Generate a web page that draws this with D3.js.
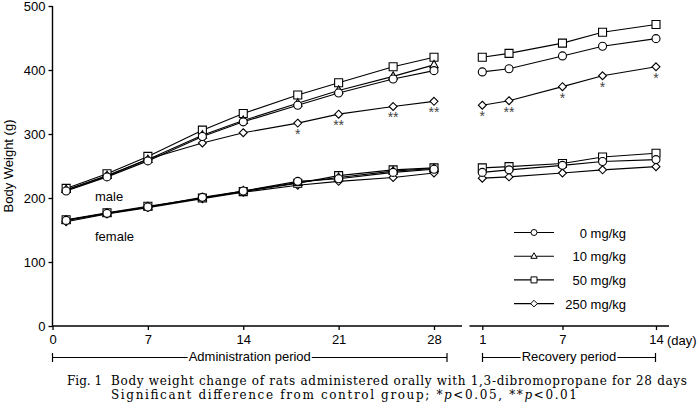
<!DOCTYPE html>
<html>
<head>
<meta charset="utf-8">
<script src="https://cdn.jsdelivr.net/npm/d3@7"></script>
<style>
  body { margin: 0; background: #fff; }
  svg text { font-family: "Liberation Sans", Arial, sans-serif; }
  .cap { font-family: "DejaVu Serif", "Liberation Serif", serif !important; }
</style>
</head>
<body>
<div id="chart"></div>
<script>
// days
var adminDays = [1, 4, 7, 11, 14, 18, 21, 25, 28];
var recDays = [1, 3, 7, 10, 14];
var doses = ["0 mg/kg", "10 mg/kg", "50 mg/kg", "250 mg/kg"];
var shapes = ["circle", "triangle", "square", "diamond"];

// male, administration period
var maleAdmin0 = [211, 233, 258, 296, 319, 345, 364, 386, 399];
var maleAdmin10 = [213, 235, 260, 298, 321, 348, 368, 390, 408];
var maleAdmin50 = [215, 238, 265, 306, 332, 361, 380, 405, 420];
var maleAdmin250 = [212, 234, 261, 286, 302, 317, 331, 343, 351];
// female, administration period
var femAdmin0 = [165, 176, 186, 201, 211, 226, 230, 240, 245];
var femAdmin10 = [165, 176, 186, 200, 211, 224, 232, 242, 246];
var femAdmin50 = [166, 177, 187, 200, 210, 223, 235, 244, 247];
var femAdmin250 = [163, 175, 185, 199, 209, 220, 226, 232, 239];
// recovery period (no 10 mg/kg group)
var maleRec0 = [397, 402, 422, 437, 449];
var maleRec50 = [420, 426, 442, 459, 471];
var maleRec250 = [345, 352, 374, 391, 405];
var femRec0 = [240, 244, 251, 257, 260];
var femRec50 = [247, 249, 254, 264, 270];
var femRec250 = [231, 233, 239, 244, 249];
// significance marks for male 250 mg/kg
var maleAdminStars = ["", "", "", "", "", "*", "**", "**", "**"];
var maleRecStars = ["*", "**", "*", "*", "*"];

var yTicks = [0, 100, 200, 300, 400, 500];
var adminTicks = [0, 7, 14, 21, 28];
var recTicks = [1, 7, 14];

var W = 699, H = 408;
var svg = d3.select("#chart").append("svg")
  .attr("width", W).attr("height", H);

var y = d3.scaleLinear().domain([0, 500]).range([326, 6]);
var xA = d3.scaleLinear().domain([0, 28]).range([52.5, 434]);
var xR = d3.scaleLinear().domain([1, 14]).range([482.3, 656]);

// marker path, centred on 0,0
function markerPath(type, s) {
  if (type === "circle") return d3.symbol(d3.symbolCircle, Math.PI * s * s)();
  if (type === "square") return "M" + (-s) + "," + (-s) + "h" + (2 * s) + "v" + (2 * s) + "h" + (-2 * s) + "Z";
  if (type === "triangle") return "M0," + (-s * 1.15) + "L" + (s * 1.05) + "," + (s * 0.7) + "L" + (-s * 1.05) + "," + (s * 0.7) + "Z";
  return "M0," + (-s * 1.1) + "L" + (s * 1.1) + ",0L0," + (s * 1.1) + "L" + (-s * 1.1) + ",0Z";
}

function drawSeries(g, x, days, vals, type) {
  var line = d3.line().x(function(d, i) { return x(days[i]); }).y(function(d) { return y(d); });
  g.append("path").attr("d", line(vals))
    .attr("fill", "none").attr("stroke", "#000").attr("stroke-width", 1.1);
  g.selectAll(null).data(vals).enter().append("path")
    .attr("d", markerPath(type, type === "diamond" ? 3.6 : 4))
    .attr("transform", function(d, i) { return "translate(" + x(days[i]) + "," + y(d) + ")"; })
    .attr("fill", "#fff").attr("stroke", "#000").attr("stroke-width", 1.1);
}

var plot = svg.append("g");
// draw order: diamond, square, triangle, circle
[[femAdmin250, "diamond"], [femAdmin50, "square"], [femAdmin10, "triangle"], [femAdmin0, "circle"],
 [maleAdmin250, "diamond"], [maleAdmin50, "square"], [maleAdmin10, "triangle"], [maleAdmin0, "circle"]]
  .forEach(function(s) { drawSeries(plot, xA, adminDays, s[0], s[1]); });
[[femRec250, "diamond"], [femRec50, "square"], [femRec0, "circle"],
 [maleRec250, "diamond"], [maleRec50, "square"], [maleRec0, "circle"]]
  .forEach(function(s) { drawSeries(plot, xR, recDays, s[0], s[1]); });

// stars
function drawStars(x, days, vals, stars) {
  plot.selectAll(null).data(stars).enter().append("text")
    .attr("x", function(d, i) { return x(days[i]); })
    .attr("y", function(d, i) { return y(vals[i]) + 16; })
    .attr("text-anchor", "middle")
    .attr("font-size", 14)
    .attr("fill", "#444")
    .text(function(d) { return d; });
}
drawStars(xA, adminDays, maleAdmin250, maleAdminStars);
drawStars(xR, recDays, maleRec250, maleRecStars);

// axes
var yAxis = svg.append("g").attr("transform", "translate(52.5,0)")
  .call(d3.axisLeft(y).tickValues(yTicks).tickSize(4).tickPadding(3));
var xAxisA = svg.append("g").attr("transform", "translate(0,326)")
  .call(d3.axisBottom(xA).tickValues(adminTicks).tickSize(4).tickPadding(5));
var xAxisR = svg.append("g").attr("transform", "translate(0,326)")
  .call(d3.axisBottom(xR).tickValues(recTicks).tickSize(4).tickPadding(5));
[yAxis, xAxisA, xAxisR].forEach(function(a) {
  a.select(".domain").remove();
  a.selectAll("line").attr("stroke", "#000").attr("stroke-width", 1.3);
  a.selectAll("text").attr("font-size", 13).attr("fill", "#000")
    .style("font-family", "'Liberation Sans', Arial, sans-serif");
});
svg.append("line").attr("x1", 52.5).attr("x2", 52.5).attr("y1", 6).attr("y2", 326)
  .attr("stroke", "#000").attr("stroke-width", 1.4);
svg.append("line").attr("x1", 52).attr("x2", 462).attr("y1", 326).attr("y2", 326)
  .attr("stroke", "#000").attr("stroke-width", 1.4);
svg.append("line").attr("x1", 469.5).attr("x2", 669).attr("y1", 326).attr("y2", 326)
  .attr("stroke", "#000").attr("stroke-width", 1.4);

svg.append("text").attr("x", 667).attr("y", 345).attr("font-size", 13).text("(day)");

svg.append("text")
  .attr("transform", "translate(13,166) rotate(-90)")
  .attr("text-anchor", "middle").attr("font-size", 13)
  .text("Body Weight (g)");

svg.append("text").attr("x", 95).attr("y", 201).attr("font-size", 13).text("male");
svg.append("text").attr("x", 95).attr("y", 241).attr("font-size", 13).text("female");

// period brackets
function bracket(x1, x2, label) {
  var g = svg.append("g");
  var t = g.append("text").attr("x", (x1 + x2) / 2).attr("y", 361)
    .attr("text-anchor", "middle").attr("font-size", 13).text(label);
  var w = t.node().getComputedTextLength();
  var cx = (x1 + x2) / 2, by = 357.5;
  g.append("line").attr("x1", x1).attr("x2", cx - w / 2 - 1).attr("y1", by).attr("y2", by);
  g.append("line").attr("x1", cx + w / 2 + 1).attr("x2", x2).attr("y1", by).attr("y2", by);
  g.append("line").attr("x1", x1).attr("x2", x1).attr("y1", by - 4.5).attr("y2", by + 4.5);
  g.append("line").attr("x1", x2).attr("x2", x2).attr("y1", by - 4.5).attr("y2", by + 4.5);
  g.selectAll("line").attr("stroke", "#000").attr("stroke-width", 1.2);
}
bracket(52.5, 447, "Administration period");
bracket(482.5, 655.5, "Recovery period");

// legend
var legend = svg.append("g").selectAll("g").data(doses).enter().append("g")
  .attr("transform", function(d, i) { return "translate(0," + (232.5 + i * 23.7) + ")"; });
legend.append("line").attr("x1", 514).attr("x2", 554).attr("y1", 0).attr("y2", 0)
  .attr("stroke", "#000").attr("stroke-width", 1.1);
legend.append("path")
  .attr("d", function(d, i) { return markerPath(shapes[i], 3); })
  .attr("transform", "translate(534,0)")
  .attr("fill", "#fff").attr("stroke", "#000").attr("stroke-width", 1);
legend.append("text").attr("x", 626).attr("y", 5).attr("text-anchor", "end")
  .attr("font-size", 13).text(function(d) { return d; });

// caption
svg.append("text").attr("class", "cap").attr("x", 67).attr("y", 385)
  .attr("font-size", 12).text("Fig. 1");
svg.append("text").attr("class", "cap").attr("x", 111).attr("y", 385)
  .attr("font-size", 12).attr("textLength", 576).attr("lengthAdjust", "spacing")
  .text("Body weight change of rats administered orally with 1,3-dibromopropane for 28 days");
var cap2 = svg.append("text").attr("class", "cap").attr("x", 111).attr("y", 398.5)
  .attr("font-size", 12).attr("textLength", 466).attr("lengthAdjust", "spacing");
cap2.append("tspan").text("Significant difference from control group; *");
cap2.append("tspan").attr("font-style", "italic").text("p");
cap2.append("tspan").text("<0.05, **");
cap2.append("tspan").attr("font-style", "italic").text("p");
cap2.append("tspan").text("<0.01");
</script>
</body>
</html>
